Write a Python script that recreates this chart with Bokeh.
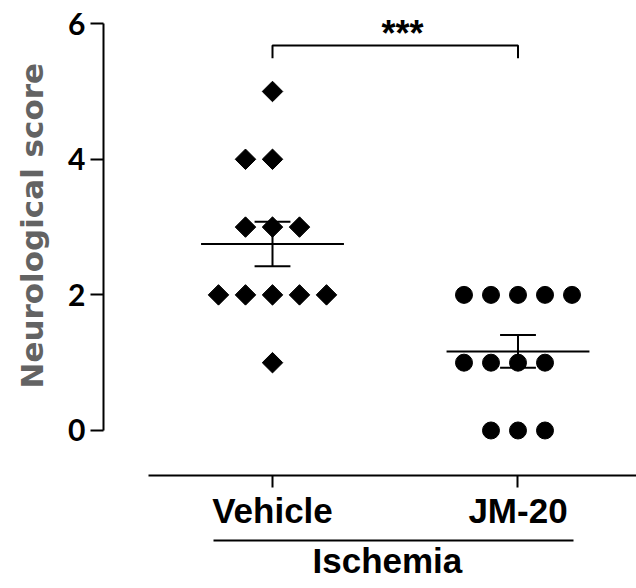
import numpy as np
from bokeh.plotting import figure
from bokeh.models import Range1d, FixedTicker, LinearAxis, Title
from bokeh.core.properties import value
from bokeh.embed import file_html
from bokeh.resources import INLINE

# ---------------- data ----------------
categories = ["Vehicle", "JM-20"]
vehicle_scores = [5, 4, 4, 3, 3, 3, 2, 2, 2, 2, 2, 1]
jm20_scores = [2, 2, 2, 2, 2, 1, 1, 1, 1, 0, 0, 0]
y_ticks = [0, 2, 4, 6]
y_label = "Neurological score"
group_label = "Ischemia"
significance = "***"

# ---------------- layout constants ----------------
POINT_STEP = 0.11      # horizontal spacing of stacked points (x units)
MEAN_HALF = 0.291      # half width of mean line
CAP_HALF = 0.073       # half width of SEM caps
BRACKET_Y = 5.68
BRACKET_DROP = 0.19


def swarm_offsets(values):
    """Prism-like arrangement: centre, then left, right, left, right..."""
    counts = {}
    offs = []
    for v in values:
        k = counts.get(v, 0)
        counts[v] = k + 1
        if k == 0:
            o = 0
        elif k % 2 == 1:
            o = -((k + 1) // 2)
        else:
            o = k // 2
        offs.append(o * POINT_STEP)
    return offs


p = figure(width=636, height=588, output_backend="svg", toolbar_location=None,
           x_range=Range1d(0.3116, 2.4827), y_range=Range1d(-0.664, 6.165),
           min_border_left=103, min_border_right=0, min_border_top=12,
           min_border_bottom=113, x_axis_location=None, y_axis_location=None)
p.outline_line_color = None
p.xgrid.visible = False
p.ygrid.visible = False
p.background_fill_color = "white"
p.border_fill_color = "white"

# ---------------- points ----------------
xs_v = [1 + o for o in swarm_offsets(vehicle_scores)]
xs_j = [2 + o for o in swarm_offsets(jm20_scores)]
p.scatter(xs_v, vehicle_scores, marker="square", angle=np.pi / 4, size=14.5,
          fill_color="black", line_color="black", line_width=1)
p.scatter(xs_j, jm20_scores, marker="circle", size=17,
          fill_color="black", line_color="black", line_width=1)

# ---------------- mean +/- SEM ----------------
for xc, vals in ((1, vehicle_scores), (2, jm20_scores)):
    arr = np.array(vals, dtype=float)
    m = arr.mean()
    sem = arr.std(ddof=1) / np.sqrt(len(arr))
    p.segment(x0=[xc - MEAN_HALF, xc, xc - CAP_HALF, xc - CAP_HALF],
              y0=[m, m - sem, m + sem, m - sem],
              x1=[xc + MEAN_HALF, xc, xc + CAP_HALF, xc + CAP_HALF],
              y1=[m, m + sem, m + sem, m - sem],
              line_color="black", line_width=2)

# ---------------- significance bracket ----------------
p.line([1, 1, 2, 2], [BRACKET_Y - BRACKET_DROP, BRACKET_Y, BRACKET_Y, BRACKET_Y - BRACKET_DROP],
       line_color="black", line_width=2)
p.text(x=[1.53], y=[5.86], text=[significance], text_font=value("Liberation Sans"),
       text_font_style="bold", text_font_size="36px", text_align="center",
       text_baseline="middle", text_color="black")

# ---------------- y axis ----------------
yax = LinearAxis(ticker=FixedTicker(ticks=y_ticks), bounds=(0, 6))
yax.axis_line_width = 2
yax.major_tick_line_width = 2
yax.major_tick_out = 13
yax.major_tick_in = 0
yax.minor_tick_line_color = None
yax.major_label_text_font = "Lato"
yax.major_label_text_font_style = "bold"
yax.major_label_text_font_size = "30px"
yax.major_label_text_color = "black"
yax.major_label_standoff = 5
p.add_layout(yax, "left")

# y title (centred on the 0-6 axis span rather than on the frame)
p.add_layout(Title(text=y_label, align="left", offset=87, standoff=27,
                   vertical_align="top", text_font="DejaVu Sans",
                   text_font_style="bold", text_font_size="31px",
                   text_color="#636363"), "left")

# ---------------- x axis (categories) ----------------
xax = LinearAxis(ticker=FixedTicker(ticks=[1, 2]), bounds=(0.495, 2.4827),
                 major_label_overrides={1: categories[0], 2: categories[1]})
xax.axis_line_width = 2
xax.major_tick_line_width = 2
xax.major_tick_out = 12
xax.major_tick_in = 0
xax.minor_tick_line_color = None
xax.major_label_text_font = "Liberation Sans"
xax.major_label_text_font_style = "bold"
xax.major_label_text_font_size = "35px"
xax.major_label_text_color = "black"
xax.major_label_standoff = 3
xax.axis_label = " "
xax.axis_label_text_font_size = "1px"
xax.axis_label_standoff = 4
p.add_layout(xax, "below")

# ---------------- group axis (underline) ----------------
gax = LinearAxis(ticker=FixedTicker(ticks=[]), bounds=(0.76, 2.226))
gax.axis_line_width = 2
gax.major_tick_out = 0
gax.major_tick_in = 0
gax.major_label_text_font_size = "0px"
p.add_layout(gax, "below")

# ---------------- group title ----------------
p.add_layout(Title(text=group_label, align="left", offset=209, standoff=0,
                   vertical_align="top",
                   text_font="Liberation Sans", text_font_style="bold",
                   text_font_size="35px", text_color="black"), "below")

open("out.html", "w").write(file_html(p, INLINE))
